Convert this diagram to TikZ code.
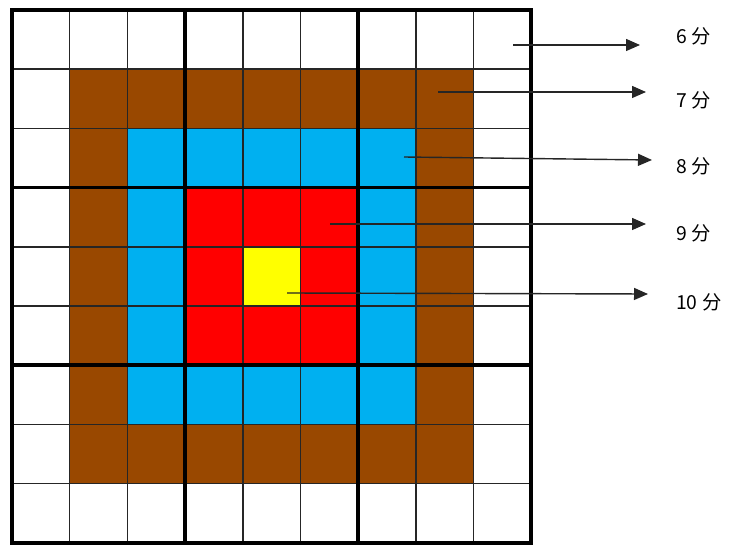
\documentclass[tikz,border=0pt]{standalone}
\usepackage{fontspec}
\newfontfamily\cjk{Noto Sans CJK SC}
\usetikzlibrary{arrows.meta}
\definecolor{ringbrown}{RGB}{153,72,0}
\definecolor{ringblue}{RGB}{0,176,240}
\definecolor{ringred}{RGB}{255,0,0}
\definecolor{ringyellow}{RGB}{255,255,0}

\begin{document}
\begin{tikzpicture}[
    x=0.03cm, y=-0.03cm,
    >={Triangle[length=4.2mm,width=3.6mm]},
    gridthin/.style={line width=1.3pt, black!85},
    gridbold/.style={line width=3.2pt, black},
    pointer/.style={->, line width=1.2pt, black!85},
    score/.style={anchor=west, inner sep=0pt, font=\cjk\fontsize{16.5}{19}\selectfont},
  ]
  \useasboundingbox (0,0) rectangle (731,545);

  %% ---- target rings ---------------------------------------------------
  \begin{scope}[shift={(12,10)}, xscale=57.7, yscale=59.2]
    \fill[ringbrown]  (1,1) rectangle (8,8);
    \fill[ringblue]   (2,2) rectangle (7,7);
    \fill[ringred]    (3,3) rectangle (6,6);
    \fill[ringyellow] (4,4) rectangle (5,5);
    \foreach \k in {1,2,4,5,7,8} {
      \draw[gridthin] (\k,0) -- (\k,9);
      \draw[gridthin] (0,\k) -- (9,\k);
    }
    \foreach \k in {3,6} {
      \draw[gridbold] (\k,0) -- (\k,9);
      \draw[gridbold] (0,\k) -- (9,\k);
    }
    \draw[gridbold] (0,0) rectangle (9,9);
  \end{scope}

  %% ---- score labels ---------------------------------------------------
  \node[score] (l6)  at (676,36)  {6 分};
  \node[score] (l7)  at (676,100) {7 分};
  \node[score] (l8)  at (676,166) {8 分};
  \node[score] (l9)  at (676,233) {9 分};
  \node[score] (l10) at (676,302) {10 分};

  %% ---- pointers -------------------------------------------------------
  \coordinate (s6)  at (513,45);  \coordinate (e6)  at (640,45);
  \coordinate (s7)  at (438,92);  \coordinate (e7)  at (646,92);
  \coordinate (s8)  at (404,157); \coordinate (e8)  at (652,160);
  \coordinate (s9)  at (330,224); \coordinate (e9)  at (646,224);
  \coordinate (s10) at (287,293); \coordinate (e10) at (648,294);
  \foreach \n in {6,7,8,9,10}
    \draw[pointer] (s\n) -- (e\n);

\end{tikzpicture}
\end{document}
